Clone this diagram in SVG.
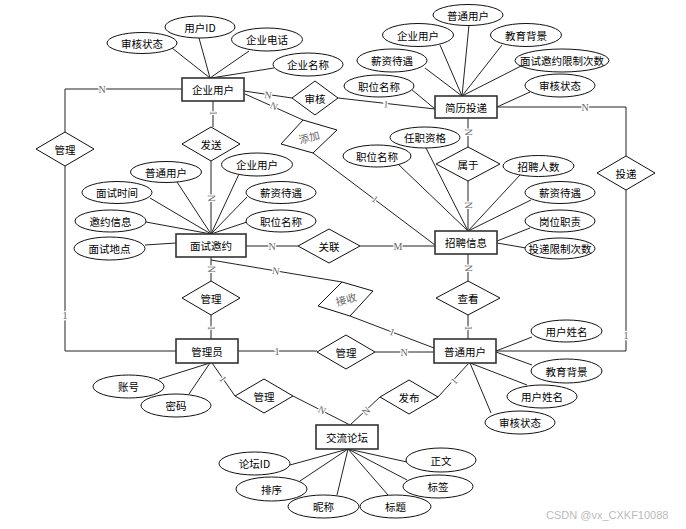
<svg xmlns="http://www.w3.org/2000/svg" width="686" height="529" viewBox="0 0 686 529">
<style>
  .ent { fill: #fff; stroke: #333; stroke-width: 1.6; }
  .rel { fill: #fff; stroke: #111; stroke-width: 1; }
  .att { fill: #fff; stroke: #111; stroke-width: 1; }
  .t { font-family: "Noto Sans CJK SC", "Liberation Sans", sans-serif; font-size: 10.5px; fill: #000; text-anchor: middle; dominant-baseline: central; }
  .tg { fill: #666; }
  .ln { fill: none; stroke: #222; stroke-width: 1; }
  .card { font-family: "Liberation Serif", serif; font-size: 10px; fill: #666; text-anchor: middle; dominant-baseline: central; stroke: #fff; stroke-width: 2.5; paint-order: stroke; }
  .wm { font-family: "Liberation Sans", sans-serif; font-size: 11px; fill: #bbb; }
</style>
<rect width="686" height="529" fill="#fff"/>

<g id="connectors">
  <!-- attribute lines: 企业用户 -->
  <path class="ln" d="M172,48 L210,78 M199,38 L210,78 M249,51 L210,78 M274,68 L211,78"/>
  <!-- 简历投递 -->
  <path class="ln" d="M469,25 L462,96 M440,45 L462,96 M502,45 L462,96 M425,68 L462,96 M523,65 L462,96 M411,89 L435,109 M530,92 L497,107"/>
  <!-- 面试邀约 -->
  <path class="ln" d="M177,182 L211,234 M239,174 L211,234 M150,198 L211,234 M247,197 L211,234 M146,222 L211,234 M247,222 L211,234 M145,245 L176,243"/>
  <!-- 招聘信息 -->
  <path class="ln" d="M426,148 L468,231 M398,164 L468,231 M520,175 L468,231 M531,200 L468,231 M530,228 L497,241 M526,248 L497,243"/>
  <!-- 管理员 -->
  <path class="ln" d="M159,379 L210,363 M189,394 L210,363"/>
  <!-- 普通用户 -->
  <path class="ln" d="M532,337 L496,351 M532,365 L496,352 M527,385 L470,363 M491,413 L470,363"/>
  <!-- 交流论坛 -->
  <path class="ln" d="M290,465 L348,449 M300,481 L348,449 M337,495 L348,449 M388,495 L348,449 M407,480 L348,449 M407,462 L348,449"/>

  <!-- relationship connectors -->
  <path class="ln" d="M182,89 H65 V132"/>
  <path class="ln" d="M65,166 V351 H176"/>
  <path class="ln" d="M244,91 L292,98"/>
  <path class="ln" d="M338,98 L435,109"/>
  <path class="ln" d="M245,94 L303,120"/>
  <path class="ln" d="M313,153 L435,245"/>
  <path class="ln" d="M213,101 V127"/>
  <path class="ln" d="M211,161 V234"/>
  <path class="ln" d="M468,118 V147"/>
  <path class="ln" d="M468,181 V231"/>
  <path class="ln" d="M497,107 H626 V156"/>
  <path class="ln" d="M626,190 V351 H496"/>
  <path class="ln" d="M246,246 H298"/>
  <path class="ln" d="M360,246 H435"/>
  <path class="ln" d="M211,260 L342,282"/>
  <path class="ln" d="M350,316 L434,348"/>
  <path class="ln" d="M211,257 V281"/>
  <path class="ln" d="M211,315 V339"/>
  <path class="ln" d="M468,254 V281"/>
  <path class="ln" d="M468,315 V339"/>
  <path class="ln" d="M238,351 H317"/>
  <path class="ln" d="M375,352 H434"/>
  <path class="ln" d="M212,363 L235,396"/>
  <path class="ln" d="M293,396 L350,425"/>
  <path class="ln" d="M468,364 L438,397"/>
  <path class="ln" d="M380,397 L350,425"/>

  <!-- cardinality labels -->
  <text class="card" x="102" y="89">N</text>
  <text class="card" x="65" y="315">1</text>
  <text class="card" x="268" y="95" transform="rotate(8 268 95)">N</text>
  <text class="card" x="386" y="104" transform="rotate(7 386 104)">1</text>
  <text class="card" x="274" y="106" transform="rotate(24 274 106)">N</text>
  <text class="card" x="375" y="199" transform="rotate(37 375 199)">1</text>
  <text class="card" x="213" y="113" transform="rotate(90 213 113)">1</text>
  <text class="card" x="211" y="198" transform="rotate(90 211 198)">N</text>
  <text class="card" x="468" y="132" transform="rotate(90 468 132)">N</text>
  <text class="card" x="468" y="205" transform="rotate(90 468 205)">N</text>
  <text class="card" x="585" y="107">N</text>
  <text class="card" x="626" y="335">1</text>
  <text class="card" x="272" y="246">N</text>
  <text class="card" x="398" y="246">M</text>
  <text class="card" x="276" y="271" transform="rotate(10 276 271)">N</text>
  <text class="card" x="392" y="332" transform="rotate(21 392 332)">1</text>
  <text class="card" x="211" y="269" transform="rotate(90 211 269)">N</text>
  <text class="card" x="211" y="328" transform="rotate(90 211 328)">1</text>
  <text class="card" x="468" y="268" transform="rotate(90 468 268)">N</text>
  <text class="card" x="468" y="328" transform="rotate(90 468 328)">1</text>
  <text class="card" x="277" y="351">1</text>
  <text class="card" x="404" y="352">N</text>
  <text class="card" x="223" y="379" transform="rotate(55 223 379)">1</text>
  <text class="card" x="322" y="410" transform="rotate(27 322 410)">N</text>
  <text class="card" x="454" y="381" transform="rotate(-48 454 381)">1</text>
  <text class="card" x="366" y="411" transform="rotate(-43 366 411)">N</text>
</g>

<!-- entities -->
<g id="e-qiye"><rect class="ent" x="182" y="78" width="62" height="23"/><text class="t" x="213" y="89.5">企业用户</text></g>
<g id="e-jianli"><rect class="ent" x="435" y="96" width="62" height="22"/><text class="t" x="466" y="107">简历投递</text></g>
<g id="e-mianshi"><rect class="ent" x="176" y="234" width="70" height="23"/><text class="t" x="211" y="245.5">面试邀约</text></g>
<g id="e-zhaopin"><rect class="ent" x="435" y="231" width="62" height="23"/><text class="t" x="466" y="242.5">招聘信息</text></g>
<g id="e-admin"><rect class="ent" x="176" y="339" width="62" height="24"/><text class="t" x="207" y="351">管理员</text></g>
<g id="e-putong"><rect class="ent" x="434" y="339" width="62" height="24"/><text class="t" x="465" y="351">普通用户</text></g>
<g id="e-forum"><rect class="ent" x="316" y="425" width="62" height="24"/><text class="t" x="347" y="437">交流论坛</text></g>

<!-- relationships -->
<g id="r-guanli-left"><polygon class="rel" points="65,132 94,149 65,166 36,149"/><text class="t" x="65" y="149">管理</text></g>
<g id="r-fasong"><polygon class="rel" points="211,127 240,144 211,161 182,144"/><text class="t" x="211" y="144">发送</text></g>
<g id="r-shenhe"><polygon class="rel" points="315,81 338,98 315,115 292,98"/><text class="t" x="315" y="98">审核</text></g>
<g id="r-tianjia"><polygon class="rel" points="303,120 337,130 313,153 281,144"/><text class="t tg" x="309" y="137" transform="rotate(-15 309 137)">添加</text></g>
<g id="r-shuyu"><polygon class="rel" points="468,147 500,164 468,181 436,164"/><text class="t" x="468" y="164">属于</text></g>
<g id="r-toudi"><polygon class="rel" points="626,156 655,173 626,190 597,173"/><text class="t" x="626" y="173">投递</text></g>
<g id="r-guanlian"><polygon class="rel" points="329,229 360,246 329,263 298,246"/><text class="t" x="329" y="246">关联</text></g>
<g id="r-jieshou"><polygon class="rel" points="342,282 373,291 350,316 318,306"/><text class="t tg" x="346" y="299" transform="rotate(-15 346 299)">接收</text></g>
<g id="r-guanli-mid"><polygon class="rel" points="211,281 240,298 211,315 182,298"/><text class="t" x="211" y="298">管理</text></g>
<g id="r-chakan"><polygon class="rel" points="468,281 500,298 468,315 436,298"/><text class="t" x="468" y="298">查看</text></g>
<g id="r-guanli-user"><polygon class="rel" points="346,335 375,352 346,369 317,352"/><text class="t" x="346" y="352">管理</text></g>
<g id="r-guanli-forum"><polygon class="rel" points="264,379 293,396 264,413 235,396"/><text class="t" x="264" y="396">管理</text></g>
<g id="r-fabu"><polygon class="rel" points="409,380 438,397 409,414 380,397"/><text class="t" x="409" y="397">发布</text></g>

<!-- attributes: 企业用户 -->
<g id="a-q-shenhe"><ellipse class="att" cx="142" cy="43" rx="35" ry="10.5"/><text class="t" x="142" y="43">审核状态</text></g>
<g id="a-q-id"><ellipse class="att" cx="200" cy="27" rx="35" ry="11"/><text class="t" x="200" y="27">用户ID</text></g>
<g id="a-q-tel"><ellipse class="att" cx="267" cy="39.5" rx="35.5" ry="11.5"/><text class="t" x="267" y="39.5">企业电话</text></g>
<g id="a-q-name"><ellipse class="att" cx="308" cy="64.5" rx="35" ry="11.5"/><text class="t" x="308" y="64.5">企业名称</text></g>

<!-- attributes: 简历投递 -->
<g id="a-j-putong"><ellipse class="att" cx="468" cy="15" rx="35" ry="10.5"/><text class="t" x="468" y="15">普通用户</text></g>
<g id="a-j-qiye"><ellipse class="att" cx="418" cy="35" rx="35.5" ry="11.5"/><text class="t" x="418" y="35">企业用户</text></g>
<g id="a-j-edu"><ellipse class="att" cx="526" cy="35" rx="35.5" ry="11.5"/><text class="t" x="526" y="35">教育背景</text></g>
<g id="a-j-xinzi"><ellipse class="att" cx="392" cy="60.5" rx="35" ry="11.5"/><text class="t" x="392" y="60.5">薪资待遇</text></g>
<g id="a-j-limit"><ellipse class="att" cx="562" cy="60.5" rx="47" ry="11.5"/><text class="t" x="562" y="60.5">面试邀约限制次数</text></g>
<g id="a-j-zhiwei"><ellipse class="att" cx="379" cy="86" rx="35" ry="11"/><text class="t" x="379" y="86">职位名称</text></g>
<g id="a-j-shenhe"><ellipse class="att" cx="560" cy="85.5" rx="35" ry="11.5"/><text class="t" x="560" y="85.5">审核状态</text></g>

<!-- attributes: 面试邀约 -->
<g id="a-m-putong"><ellipse class="att" cx="166" cy="172" rx="35.5" ry="10.5"/><text class="t" x="166" y="172">普通用户</text></g>
<g id="a-m-qiye"><ellipse class="att" cx="257" cy="164.5" rx="35.5" ry="11.5"/><text class="t" x="257" y="164.5">企业用户</text></g>
<g id="a-m-time"><ellipse class="att" cx="117" cy="192.5" rx="35" ry="11"/><text class="t" x="117" y="192.5">面试时间</text></g>
<g id="a-m-xinzi"><ellipse class="att" cx="281" cy="192.5" rx="35" ry="11"/><text class="t" x="281" y="192.5">薪资待遇</text></g>
<g id="a-m-info"><ellipse class="att" cx="110.5" cy="221" rx="35.5" ry="11"/><text class="t" x="110.5" y="221">邀约信息</text></g>
<g id="a-m-zhiwei"><ellipse class="att" cx="281" cy="221" rx="35" ry="11"/><text class="t" x="281" y="221">职位名称</text></g>
<g id="a-m-place"><ellipse class="att" cx="109.5" cy="248.5" rx="35.5" ry="11.5"/><text class="t" x="109.5" y="248.5">面试地点</text></g>

<!-- attributes: 招聘信息 -->
<g id="a-z-zige"><ellipse class="att" cx="425" cy="137.5" rx="35" ry="10.5"/><text class="t" x="425" y="137.5">任职资格</text></g>
<g id="a-z-zhiwei"><ellipse class="att" cx="377" cy="156" rx="34" ry="11"/><text class="t" x="377" y="156">职位名称</text></g>
<g id="a-z-renshu"><ellipse class="att" cx="538.5" cy="166" rx="35.5" ry="10.5"/><text class="t" x="538.5" y="166">招聘人数</text></g>
<g id="a-z-xinzi"><ellipse class="att" cx="560" cy="192.5" rx="35" ry="11"/><text class="t" x="560" y="192.5">薪资待遇</text></g>
<g id="a-z-zhize"><ellipse class="att" cx="560" cy="221" rx="35" ry="11"/><text class="t" x="560" y="221">岗位职责</text></g>
<g id="a-z-limit"><ellipse class="att" cx="560" cy="248.5" rx="35" ry="10.5"/><text class="t" x="560" y="248.5">投递限制次数</text></g>

<!-- attributes: 管理员 -->
<g id="a-a-account"><ellipse class="att" cx="128.5" cy="386.5" rx="35.5" ry="11.5"/><text class="t" x="128.5" y="386.5">账号</text></g>
<g id="a-a-pwd"><ellipse class="att" cx="176" cy="405.5" rx="35" ry="11.5"/><text class="t" x="176" y="405.5">密码</text></g>

<!-- attributes: 普通用户 -->
<g id="a-p-name1"><ellipse class="att" cx="566.5" cy="331" rx="35.5" ry="11"/><text class="t" x="566.5" y="331">用户姓名</text></g>
<g id="a-p-edu"><ellipse class="att" cx="566.5" cy="371" rx="35.5" ry="12"/><text class="t" x="566.5" y="371">教育背景</text></g>
<g id="a-p-name2"><ellipse class="att" cx="542" cy="396.5" rx="35" ry="11.5"/><text class="t" x="542" y="396.5">用户姓名</text></g>
<g id="a-p-shenhe"><ellipse class="att" cx="520" cy="422.5" rx="35" ry="11.5"/><text class="t" x="520" y="422.5">审核状态</text></g>

<!-- attributes: 交流论坛 -->
<g id="a-f-id"><ellipse class="att" cx="254.5" cy="463.5" rx="35.5" ry="11.5"/><text class="t" x="254.5" y="463.5">论坛ID</text></g>
<g id="a-f-sort"><ellipse class="att" cx="271.5" cy="489" rx="35.5" ry="12"/><text class="t" x="271.5" y="489">排序</text></g>
<g id="a-f-nick"><ellipse class="att" cx="323.5" cy="506.5" rx="35.5" ry="11.5"/><text class="t" x="323.5" y="506.5">昵称</text></g>
<g id="a-f-title"><ellipse class="att" cx="395.5" cy="506.5" rx="35.5" ry="11.5"/><text class="t" x="395.5" y="506.5">标题</text></g>
<g id="a-f-tag"><ellipse class="att" cx="438" cy="486.5" rx="35" ry="11.5"/><text class="t" x="438" y="486.5">标签</text></g>
<g id="a-f-body"><ellipse class="att" cx="441" cy="460" rx="35" ry="12"/><text class="t" x="441" y="460">正文</text></g>

<text class="wm" x="546" y="519">CSDN @vx_CXKF10088</text>
</svg>
